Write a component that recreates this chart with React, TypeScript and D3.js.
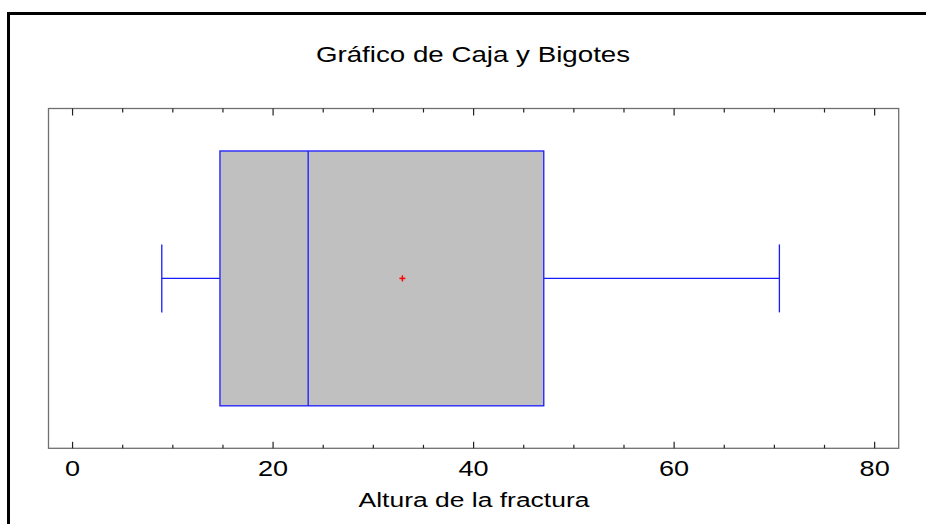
import React from "react";
import * as d3 from "d3";

const title = "Gráfico de Caja y Bigotes";
const axisLabel = "Altura de la fractura";
const statNames = ["min", "q1", "median", "mean", "q3", "max"];
const statValues = [8.9, 14.7, 23.5, 32.9, 47.0, 70.5];
const majorTicks = [0, 20, 40, 60, 80];
const minorTicks = [5, 10, 15, 25, 30, 35, 45, 50, 55, 65, 70, 75];

const W = 926;
const H = 524;
const plot = { left: 48.5, right: 898.7, top: 108.5, bottom: 448.3 };
const STRETCH = 1.26;

export default function App() {
  const s: Record<string, number> = {};
  statNames.forEach((n, i) => (s[n] = statValues[i]));

  const x = d3.scaleLinear().domain([-2.4, 82.4]).range([plot.left, plot.right]);
  const y = d3.scaleLinear().domain([0, 1]).range([plot.bottom, plot.top]);

  const blue = "#1a1aff";
  const yMid = y(0.5);
  const font = "'Liberation Sans', Arial, sans-serif";

  const stretchedText = (txt: string, cx: number, by: number, size: number, key?: string) => (
    <text
      key={key}
      transform={`translate(${cx},${by}) scale(${STRETCH},1)`}
      textAnchor="middle"
      fontFamily={font}
      fontSize={size}
      fill="#000"
    >
      {txt}
    </text>
  );

  return (
    <div style={{ position: "absolute", left: 0, top: 0 }}>
      <svg width={W} height={H} style={{ display: "block" }}>
        <rect x={0} y={0} width={W} height={H} fill="#fff" />
        {/* outer frame */}
        <rect x={8.5} y={13.5} width={W + 20} height={H + 20} fill="none" stroke="#000" strokeWidth={3} />

        {/* title */}
        {stretchedText(title, 473, 61.5, 22)}

        {/* plot frame */}
        <rect
          x={plot.left}
          y={plot.top}
          width={plot.right - plot.left}
          height={plot.bottom - plot.top}
          fill="#fff"
          stroke="#707070"
          strokeWidth={1.3}
        />

        {/* ticks */}
        {majorTicks.map((t) => (
          <g key={"M" + t}>
            <line x1={x(t)} x2={x(t)} y1={plot.bottom} y2={plot.bottom - 6.5} stroke="#222" strokeWidth={1.2} />
            <line x1={x(t)} x2={x(t)} y1={plot.top} y2={plot.top + 7} stroke="#222" strokeWidth={1.2} />
          </g>
        ))}
        {minorTicks.map((t) => (
          <g key={"m" + t}>
            <line x1={x(t)} x2={x(t)} y1={plot.bottom} y2={plot.bottom - 3.5} stroke="#222" strokeWidth={1.2} />
            <line x1={x(t)} x2={x(t)} y1={plot.top} y2={plot.top + 4} stroke="#222" strokeWidth={1.2} />
          </g>
        ))}
        {majorTicks.map((t) => stretchedText(String(t), x(t), 476, 21.5, "l" + t))}

        {/* axis label */}
        {stretchedText(axisLabel, 474, 507, 21)}

        {/* whiskers */}
        <line x1={x(s.min)} x2={x(s.q1)} y1={yMid} y2={yMid} stroke={blue} strokeWidth={1.3} />
        <line x1={x(s.q3)} x2={x(s.max)} y1={yMid} y2={yMid} stroke={blue} strokeWidth={1.3} />
        <line x1={x(s.min)} x2={x(s.min)} y1={y(0.6)} y2={y(0.4)} stroke={blue} strokeWidth={1.3} />
        <line x1={x(s.max)} x2={x(s.max)} y1={y(0.6)} y2={y(0.4)} stroke={blue} strokeWidth={1.3} />

        {/* box */}
        <rect
          x={x(s.q1)}
          y={y(0.875)}
          width={x(s.q3) - x(s.q1)}
          height={y(0.125) - y(0.875)}
          fill="#c0c0c0"
          stroke={blue}
          strokeWidth={1.3}
        />
        <line x1={x(s.median)} x2={x(s.median)} y1={y(0.875)} y2={y(0.125)} stroke={blue} strokeWidth={1.3} />

        {/* mean marker */}
        <line x1={x(s.mean) - 3} x2={x(s.mean) + 3} y1={yMid} y2={yMid} stroke="#ff0000" strokeWidth={1.5} />
        <line x1={x(s.mean)} x2={x(s.mean)} y1={yMid - 3} y2={yMid + 3} stroke="#ff0000" strokeWidth={1.5} />
      </svg>
    </div>
  );
}
